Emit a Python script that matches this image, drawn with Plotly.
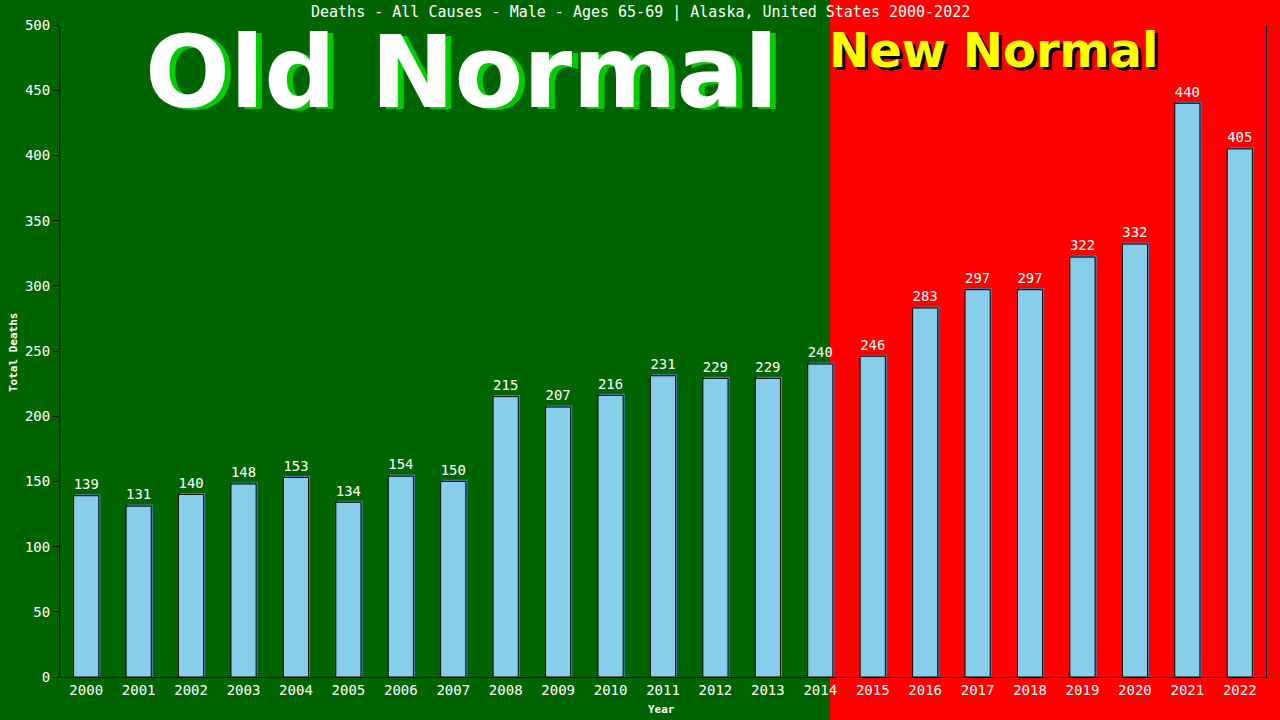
import plotly.graph_objects as go

years = [str(y) for y in range(2000, 2023)]
deaths = [139, 131, 140, 148, 153, 134, 154, 150, 215, 207, 216, 231, 229, 229,
          240, 246, 283, 297, 297, 322, 332, 440, 405]
title_text = "Deaths - All Causes - Male - Ages 65-69 | Alaska, United States 2000-2022"

W, H = 1280, 720
L, R, T, B = 60, 14, 25, 43
pw, ph = W - L - R, H - T - B

def px(xp):
    return (xp - L) / pw

def py(yp):
    return (H - B - yp) / ph

mono = "DejaVu Sans Mono"
bw = 0.48

fig = go.Figure()
# shadow bars
fig.add_trace(go.Bar(
    x=years, y=[d + 1.2 for d in deaths], width=bw, offset=-bw / 2 + 0.03,
    marker=dict(color="#4682B4", line=dict(width=0)),
    hoverinfo="skip", showlegend=False,
))
fig.add_trace(go.Bar(
    x=years, y=deaths, width=bw, offset=-bw / 2,
    marker=dict(color="#87CEEB", line=dict(color="black", width=1)),
    text=[str(d) for d in deaths], textposition="outside",
    textfont=dict(family=mono, size=15, color="white"),
    cliponaxis=False, showlegend=False,
))

split = px(830)
fig.add_shape(type="rect", xref="paper", yref="paper",
              x0=px(-5), x1=split, y0=py(725), y1=py(-5),
              fillcolor="#006400", line=dict(width=0), layer="below")

annotations = [
    dict(text="Old Normal", x=px(461), y=py(72),
         font=dict(family="DejaVu Sans", size=100, color="white", weight="bold",
                   shadow="6px 2px 0px #00cc00")),
    dict(text="New Normal", x=px(993), y=py(50),
         font=dict(family="DejaVu Sans", size=48, color="#ffff00", weight="bold",
                   shadow="3px 3px 0px black")),
    dict(text=title_text, x=px(640), y=py(12),
         font=dict(family=mono, size=15, color="white")),
    dict(text="Total Deaths", x=px(13), y=py(352), textangle=-90,
         font=dict(family=mono, size=11, color="white", weight="bold")),
    dict(text="Year", x=px(661), y=py(709),
         font=dict(family=mono, size=11, color="white", weight="bold")),
]
for a in annotations:
    a.update(xref="paper", yref="paper", showarrow=False,
             xanchor="center", yanchor="middle")

fig.update_layout(
    width=W, height=H,
    margin=dict(l=L, r=R, t=T, b=B),
    paper_bgcolor="#ff0000", plot_bgcolor="rgba(0,0,0,0)",
    barmode="overlay",
    annotations=annotations,
    showlegend=False,
)
fig.update_xaxes(
    type="category", range=[-0.5, 22.5], showgrid=False, zeroline=False,
    showline=True, linecolor="black", linewidth=1, ticks="",
    tickfont=dict(family=mono, size=14, color="white"),
)
fig.update_yaxes(
    range=[0, 500], dtick=50, showgrid=False, zeroline=False,
    showline=True, linecolor="black", linewidth=1, mirror=True,
    ticks="outside", ticklen=6, tickcolor="black",
    tickfont=dict(family=mono, size=14, color="white"),
)

fig.write_html("out.html", config={"displayModeBar": False},
               post_script="document.body.style.margin='0';document.body.style.overflow='hidden';")
